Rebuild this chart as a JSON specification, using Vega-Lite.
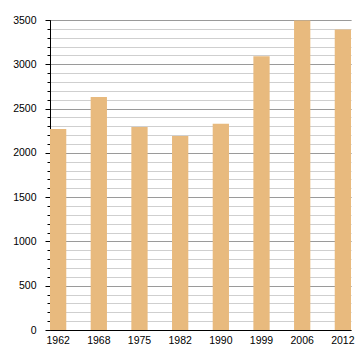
{
  "$schema": "https://vega.github.io/schema/vega-lite/v6.json",
  "width": 301,
  "height": 310,
  "autosize": {"type": "none"},
  "padding": {"left": 50, "top": 20, "right": 9, "bottom": 30},
  "background": "white",
  "data": {"values": [
    {"year": "1962", "pop": 2270},
    {"year": "1968", "pop": 2632},
    {"year": "1975", "pop": 2292},
    {"year": "1982", "pop": 2190},
    {"year": "1990", "pop": 2330},
    {"year": "1999", "pop": 3090},
    {"year": "2006", "pop": 3495},
    {"year": "2012", "pop": 3392}
  ]},
  "config": {
    "view": {"stroke": null},
    "axis": {"labelFont": "Liberation Sans", "labelFontSize": 10.5, "labelColor": "#000", "domainColor": "#000", "tickColor": "#000"}
  },
  "encoding": {
    "x": {"field": "year", "type": "ordinal", "scale": {"paddingInner": 0.6, "paddingOuter": 0, "align": 0}, "sort": null,
      "axis": {"title": null, "labelAngle": 0, "ticks": false, "grid": false, "labelPadding": 5, "domainWidth": 1}}
  },
  "layer": [
    {
      "mark": {"type": "bar", "color": "#e8ba7e", "opacity": 0},
      "encoding": {
        "y": {"field": "pop", "type": "quantitative", "scale": {"domain": [0, 3500], "nice": false},
          "axis": {"title": null, "orient": "left", "values": [0,100,200,300,400,500,600,700,800,900,1000,1100,1200,1300,1400,1500,1600,1700,1800,1900,2000,2100,2200,2300,2400,2500,2600,2700,2800,2900,3000,3100,3200,3300,3400,3500],
            "labels": false, "tickSize": 3, "grid": true, "gridColor": "#cfcfcf", "gridWidth": 1, "domain": true, "domainWidth": 1}}
      }
    },
    {
      "mark": {"type": "bar", "color": "#e8ba7e"},
      "encoding": {
        "y": {"field": "pop", "type": "quantitative", "scale": {"domain": [0, 3500], "nice": false},
          "axis": {"title": null, "orient": "left", "values": [0,500,1000,1500,2000,2500,3000,3500], "format": "d",
            "tickSize": 5, "labelPadding": 9, "grid": true, "gridColor": "#9a9a9a", "gridWidth": 1, "domain": false}}
      }
    }
  ],
  "resolve": {"axis": {"y": "independent"}}
}
